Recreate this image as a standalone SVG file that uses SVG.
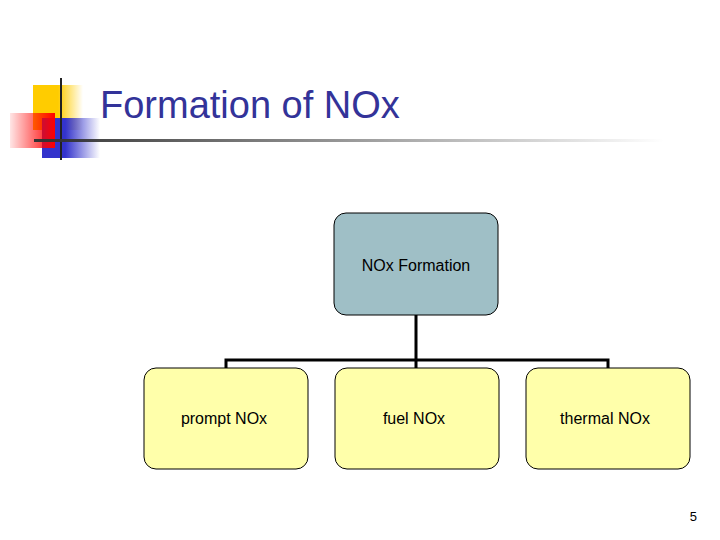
<svg xmlns="http://www.w3.org/2000/svg" width="720" height="540" viewBox="0 0 720 540">
<defs>
<linearGradient id="gy" x1="0" x2="1"><stop offset="0" stop-color="#ffcc00"/><stop offset="0.5" stop-color="#ffcc00"/><stop offset="1" stop-color="#ffcc00" stop-opacity="0"/></linearGradient>
<linearGradient id="gr" x1="1" x2="0"><stop offset="0" stop-color="#ff0000"/><stop offset="1" stop-color="#ff0000" stop-opacity="0.1"/></linearGradient>
<linearGradient id="gb" x1="0" x2="1"><stop offset="0" stop-color="#3333cc"/><stop offset="0.4" stop-color="#3333cc"/><stop offset="1" stop-color="#3333cc" stop-opacity="0"/></linearGradient>
<linearGradient id="gl" x1="0" x2="1"><stop offset="0" stop-color="#333"/><stop offset="1" stop-color="#333" stop-opacity="0"/></linearGradient>
<style>
.box{stroke:#000;stroke-width:1}
.t{font-family:"Liberation Sans",Arial,sans-serif;font-size:16px;text-anchor:middle}
.c{stroke:#000;stroke-width:3;fill:none}
</style>
</defs>
<g id="logo">
<rect x="33" y="85" width="50" height="45" fill="url(#gy)"/>
<rect x="42" y="118" width="58" height="40" fill="url(#gb)"/>
<rect x="10" y="113" width="45" height="35" fill="url(#gr)"/>
<line x1="61" y1="78" x2="61" y2="160" stroke="#222" stroke-width="2"/>
<rect x="34" y="139" width="630" height="3" fill="url(#gl)"/>
</g>
<text x="100" y="118" font-family="'Liberation Sans',Arial,sans-serif" font-size="38" fill="#333399">Formation of NOx</text>
<g id="connectors">
<path class="c" d="M416 315 V360 M226 368 V360 H608 V368 M416 360 V368"/>
</g>
<g id="root"><rect class="box" x="334" y="213" width="164" height="102" rx="12" fill="#9fbfc6"/><text class="t" x="416" y="271">NOx Formation</text></g>
<g id="prompt"><rect class="box" x="144" y="368" width="164" height="101" rx="12" fill="#ffffaa"/><text class="t" x="224" y="424">prompt NOx</text></g>
<g id="fuel"><rect class="box" x="335" y="368" width="164" height="101" rx="12" fill="#ffffaa"/><text class="t" x="414" y="424">fuel NOx</text></g>
<g id="thermal"><rect class="box" x="526" y="368" width="164" height="101" rx="12" fill="#ffffaa"/><text class="t" x="605" y="424">thermal NOx</text></g>
<text x="697" y="521" font-family="'Liberation Sans',Arial,sans-serif" font-size="13" text-anchor="end">5</text>
</svg>
